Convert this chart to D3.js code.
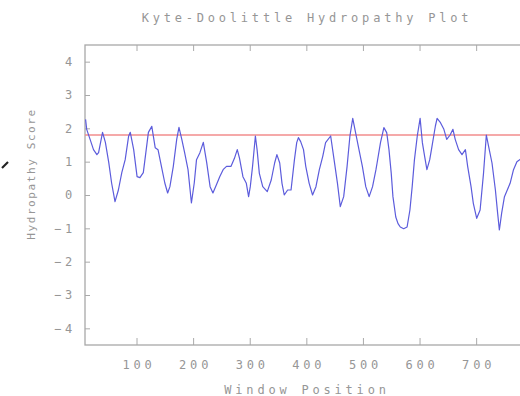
<!DOCTYPE html>
<html>
<head>
<meta charset="utf-8">
<script src="https://cdn.jsdelivr.net/npm/d3@7"></script>
<style>
  body { margin: 0; background: #fff; }
  text { font-family: "DejaVu Sans Mono", monospace; fill: #969696; }
</style>
</head>
<body>
<script>
// window positions and hydropathy scores
var positions = [10, 12, 18, 24, 30, 33, 40, 45, 51, 56, 62, 68, 74, 80, 86, 89, 95, 101, 106, 112,
  121, 127, 133, 138, 144, 150, 155, 159, 165, 171, 175, 180, 185, 191, 197, 202, 206, 212, 218, 224,
  230, 235, 241, 247, 253, 259, 267, 273, 278, 282, 288, 294, 298, 301, 305, 310, 313, 317, 323, 331,
  338, 344, 348, 353, 357, 361, 367, 373, 379, 383, 386, 390, 395, 399, 405, 411, 417, 423, 429, 434,
  443, 449, 455, 460, 466, 472, 477, 482, 487, 493, 499, 505, 511, 517, 523, 525, 531, 537, 542, 546,
  550, 553, 558, 562, 566, 572, 578, 583, 587, 591, 596, 601, 605, 609, 613, 618, 622, 628, 631, 637,
  643, 648, 654, 659, 663, 669, 675, 681, 685, 691, 695, 701, 707, 713, 718, 722, 728, 734, 738, 741,
  745, 750, 755, 760, 766, 772, 777, 781];
var scores = [2.27, 1.97, 1.67, 1.36, 1.21, 1.27, 1.88, 1.58, 0.97, 0.36, -0.2, 0.15, 0.67, 1.06, 1.76, 1.88, 1.36, 0.55, 0.52, 0.67,
  1.88, 2.06, 1.42, 1.36, 0.86, 0.36, 0.06, 0.25, 0.86, 1.67, 2.03, 1.67, 1.27, 0.76, -0.24, 0.36, 1.06, 1.27, 1.58, 0.97,
  0.25, 0.06, 0.3, 0.55, 0.76, 0.86, 0.86, 1.1, 1.36, 1.1, 0.55, 0.35, -0.05, 0.25, 0.86, 1.77, 1.36, 0.65, 0.25, 0.1,
  0.45, 0.96, 1.21, 0.96, 0.35, 0.0, 0.15, 0.15, 1.06, 1.57, 1.72, 1.6, 1.36, 0.86, 0.35, 0.0, 0.25, 0.76, 1.16, 1.57,
  1.77, 1.06, 0.35, -0.35, -0.05, 0.86, 1.77, 2.3, 1.87, 1.36, 0.86, 0.25, -0.05, 0.25, 0.76, 0.96, 1.57, 2.02, 1.87, 1.36,
  0.65, -0.05, -0.66, -0.86, -0.96, -1.01, -0.96, -0.45, 0.25, 1.06, 1.77, 2.3, 1.57, 1.16, 0.76, 1.06, 1.46, 2.07, 2.3, 2.17,
  1.97, 1.67, 1.8, 1.97, 1.67, 1.36, 1.21, 1.36, 0.86, 0.25, -0.25, -0.7, -0.45, 0.65, 1.8, 1.46, 0.96, 0.15, -0.55, -1.05,
  -0.55, -0.05, 0.15, 0.35, 0.76, 1.0, 1.06, 1.1];
var threshold = 1.8;
var xTicks = [100, 200, 300, 400, 500, 600, 700];
var yTicks = [-4, -3, -2, -1, 0, 1, 2, 3, 4];

var svg = d3.select("body")
  .append("svg")
  .attr("width", 520)
  .attr("height", 396);

var plotLeft = 85, plotRight = 522, plotTop = 45, plotBottom = 345;

var x = d3.scaleLinear().domain([9, 781]).range([plotLeft, plotRight]);
var y = d3.scaleLinear().domain([-4.5, 4.5]).range([plotBottom, plotTop]);

svg.append("text")
  .attr("x", 307)
  .attr("y", 22)
  .attr("text-anchor", "middle")
  .style("font-size", "12px")
  .style("letter-spacing", "3.8px")
  .text("Kyte-Doolittle Hydropathy Plot");

// bottom axis with labels, ticks pointing inward
var xAxis = svg.append("g")
  .attr("transform", "translate(0," + plotBottom + ")")
  .call(d3.axisBottom(x).tickValues(xTicks).tickSize(-7).tickPadding(15));
xAxis.selectAll("text").style("font-size", "12px").style("letter-spacing", "3.8px")
  .attr("dx", "2px");

svg.append("g")
  .attr("transform", "translate(0," + plotTop + ")")
  .call(d3.axisTop(x).tickValues(xTicks).tickSize(-6).tickFormat(""));

var yAxis = svg.append("g")
  .attr("transform", "translate(" + plotLeft + ",0)")
  .call(d3.axisLeft(y).tickValues(yTicks).tickSize(-5).tickPadding(9)
    .tickFormat(function(d){ return d < 0 ? "\u2212" + Math.abs(d) : d; }));
yAxis.selectAll("text").style("font-size", "12px").style("letter-spacing", "3.8px");

svg.selectAll(".domain").remove();
svg.selectAll(".tick line").attr("stroke", "#aaa");

svg.append("rect")
  .attr("x", plotLeft)
  .attr("y", plotTop)
  .attr("width", plotRight - plotLeft)
  .attr("height", plotBottom - plotTop)
  .attr("fill", "none")
  .attr("stroke", "#a8a8a8")
  .attr("stroke-width", 1.3);

svg.append("text")
  .attr("x", 307)
  .attr("y", 394)
  .attr("text-anchor", "middle")
  .style("font-size", "12px")
  .style("letter-spacing", "3.8px")
  .text("Window Position");

svg.append("text")
  .attr("transform", "translate(35,174) rotate(-90)")
  .attr("text-anchor", "middle")
  .style("font-size", "11px")
  .style("letter-spacing", "1.6px")
  .text("Hydropathy Score");

svg.append("clipPath").attr("id", "plot")
  .append("rect").attr("x", plotLeft).attr("y", plotTop)
  .attr("width", plotRight - plotLeft).attr("height", plotBottom - plotTop);

svg.append("line")
  .attr("x1", plotLeft)
  .attr("x2", plotRight)
  .attr("y1", y(threshold))
  .attr("y2", y(threshold))
  .attr("stroke", "#f28c8c")
  .attr("stroke-width", 1.3);

var line = d3.line()
  .x(function(d, i){ return x(positions[i]); })
  .y(function(d){ return y(d); });

svg.append("path")
  .datum(scores)
  .attr("clip-path", "url(#plot)")
  .attr("d", line)
  .attr("fill", "none")
  .attr("stroke", "#5c5cdc")
  .attr("stroke-width", 1.2)
  .attr("stroke-linejoin", "round");

// stray cursor mark at the left edge of the screenshot
svg.append("path")
  .attr("d", "M2,168 L8,162")
  .attr("stroke", "#222")
  .attr("stroke-width", 2.2);
</script>
</body>
</html>
